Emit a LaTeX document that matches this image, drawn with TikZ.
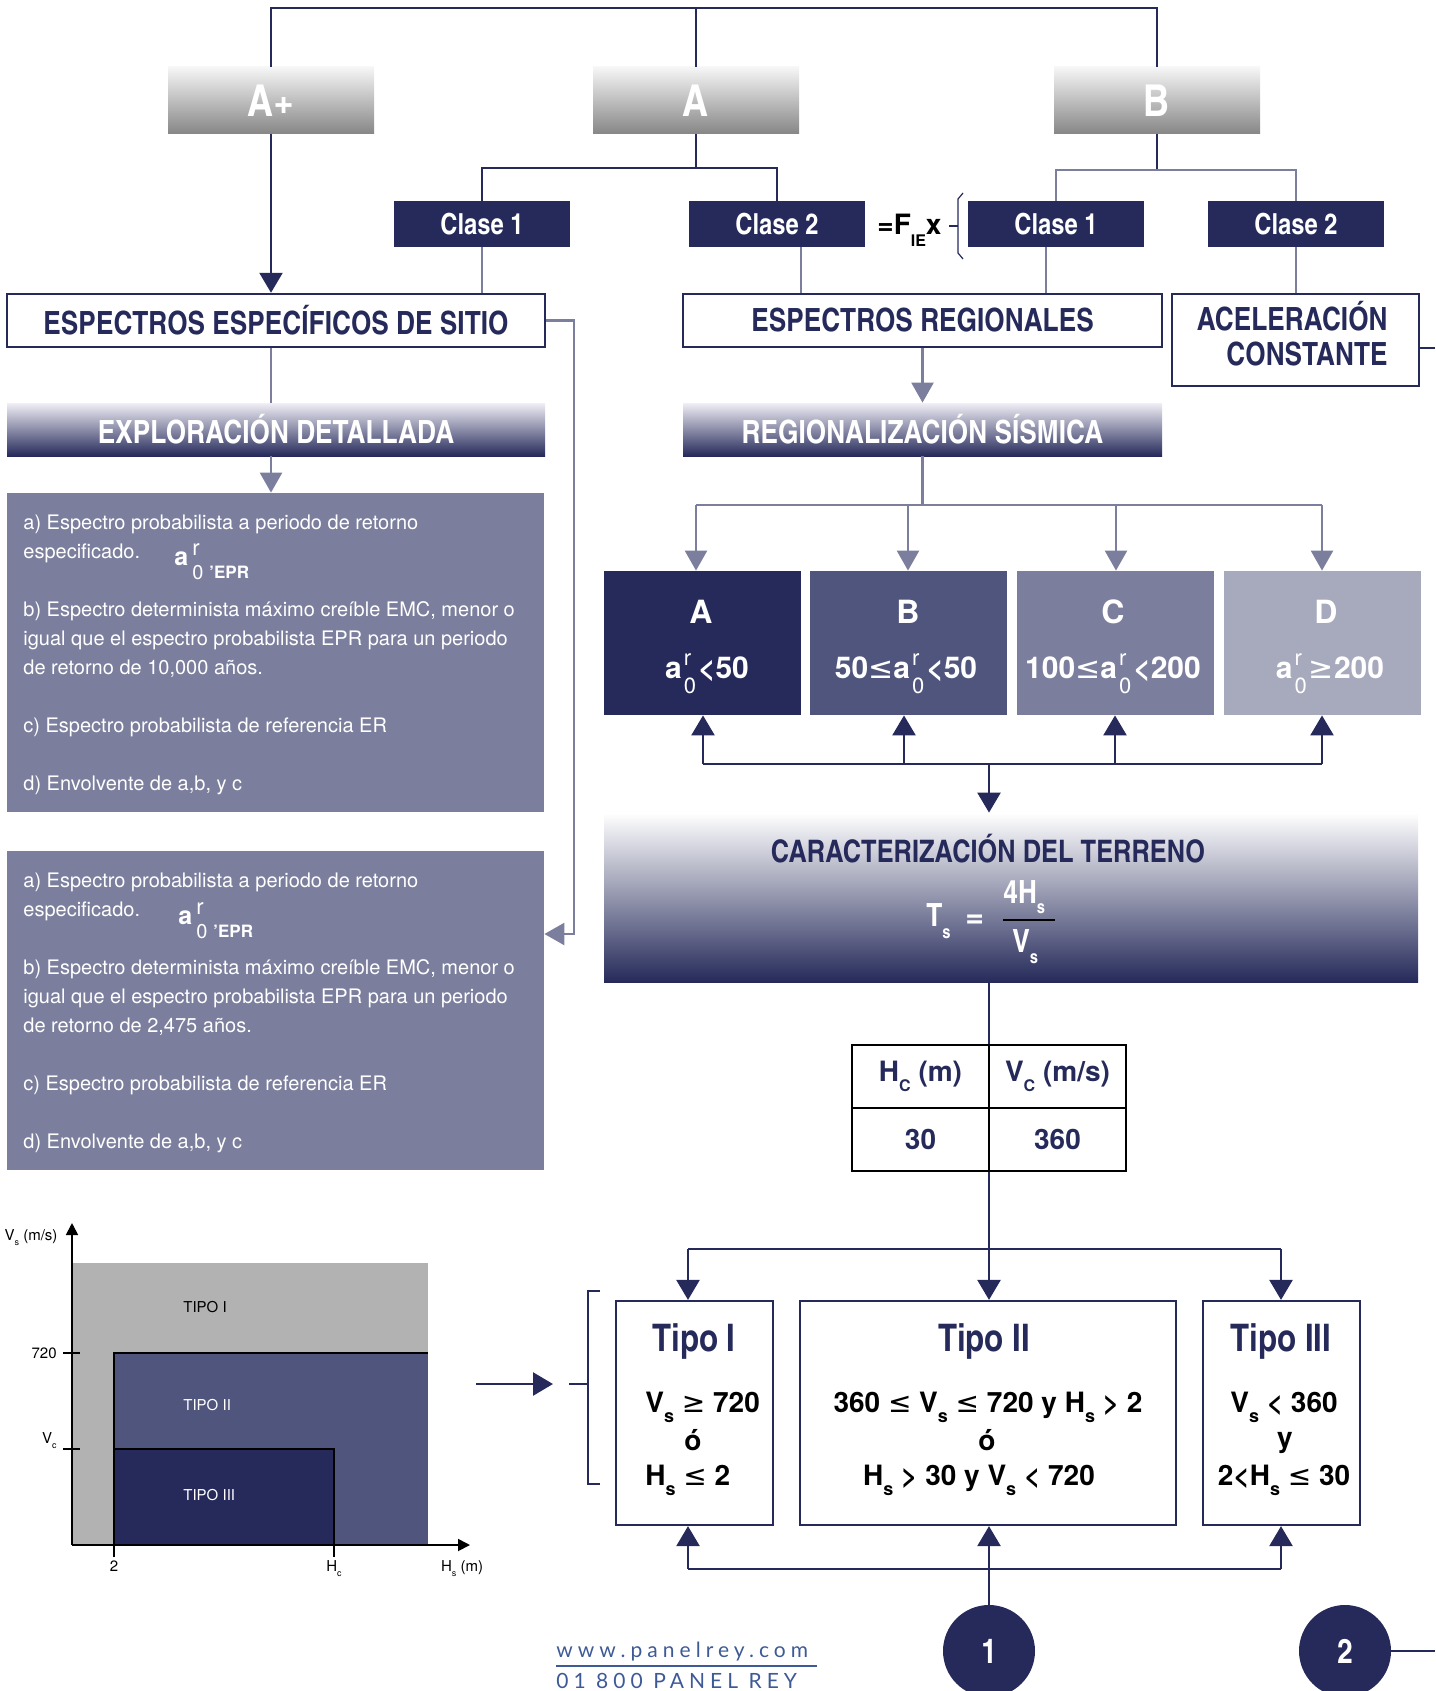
\documentclass[tikz,border=0pt]{standalone}
\usepackage{fontspec}
\setmainfont{TeX Gyre Heros}
\newfontfamily\cn{texgyreheroscn}[Extension=.otf,UprightFont=*-regular,BoldFont=*-bold]
\newfontfamily\ft{Lato}[LetterSpace=24]
\newfontfamily\djv{DejaVu Sans}
\usetikzlibrary{arrows.meta}
\definecolor{navy}{RGB}{37,42,90}
\definecolor{gblue}{RGB}{123,127,157}
\definecolor{midb}{RGB}{80,85,125}
\definecolor{lightb}{RGB}{167,169,189}
\definecolor{foot}{RGB}{62,90,150}
\definecolor{gtop}{RGB}{246,246,246}
\definecolor{gbot}{RGB}{134,134,134}
\definecolor{barTop}{RGB}{240,238,246}
\definecolor{gfill}{RGB}{178,178,178}
\newcommand\fsz[1]{\fontsize{#1}{#1}\selectfont}
\newcommand\LEQ{{\djv\mdseries ≤}}
\newcommand\GEQ{{\djv\mdseries ≥}}
\newcommand\ssub{\raisebox{-5pt}{\fsz{9}s}}
\newcommand\aroT{{\fsz{12.5}\bfseries a}\kern2pt\rlap{\raisebox{5pt}{\fsz{11}r}}\raisebox{-7pt}{\fsz{10}0}\kern3pt\raisebox{-6.5pt}{\fsz{8.5}\bfseries ’EPR}}
\newcommand\aroB{a\kern1pt\rlap{\raisebox{6.5pt}{\fsz{11}\mdseries r}}\raisebox{-7.5pt}{\fsz{11}\mdseries 0}\kern1pt}
\begin{document}
\begin{tikzpicture}[x=0.5pt,y=-0.5pt,
  dk/.style={draw=navy,line width=1.25pt},
  lt/.style={draw=gblue,line width=1.25pt},
  dkar/.style={dk,-{Triangle[length=10pt,width=11.5pt]}},
  ltar/.style={lt,-{Triangle[length=10pt,width=11pt]}},
  graybox/.style={rectangle,inner sep=0,minimum width=103pt,minimum height=33.5pt,top color=gtop,bottom color=gbot,text=white,font=\cn\bfseries\fsz{22}},
  clase/.style={rectangle,inner sep=0,fill=navy,text=white,minimum width=88pt,minimum height=23pt,font=\cn\bfseries\fsz{14.5}},
  wbox/.style={rectangle,inner sep=0,draw=navy,line width=1.25pt,fill=white,text=navy,font=\cn\bfseries\fsz{16}},
  gradbar/.style={rectangle,inner sep=0,top color=barTop,bottom color=navy,text=white,font=\cn\bfseries\fsz{16}},
  tbox/.style={rectangle,inner sep=0,fill=gblue,minimum width=268.5pt,minimum height=159.5pt},
  tl/.style={anchor=base west,inner sep=0,text=white,font=\fsz{10}},
  zbox/.style={rectangle,inner sep=0,minimum width=98.5pt,minimum height=72pt},
  zlet/.style={anchor=base,inner sep=0,text=white,font=\bfseries\fsz{16}},
  zval/.style={anchor=base,inner sep=0,text=white,font=\bfseries\fsz{15}},
  cell/.style={rectangle,inner sep=0,draw=black,line width=1.25pt,minimum width=68.5pt,minimum height=31.5pt,text=navy,font=\bfseries\fsz{14}},
  tipo/.style={rectangle,inner sep=0,draw=navy,line width=1.1pt,minimum height=112pt},
  ttl/.style={anchor=base,inner sep=0,text=navy,font=\cn\bfseries\fsz{19}},
  cond/.style={inner sep=0,text=black,font=\bfseries\fsz{14}},
  circ/.style={circle,inner sep=0,fill=navy,minimum size=46pt,text=white,font=\cn\bfseries\fsz{17}},
  glab/.style={inner sep=0,font=\fsz{7.5}},
  frm/.style={anchor=base west,inner sep=0,text=white,font=\cn\bfseries\fsz{16}},
]
\useasboundingbox (0,0) rectangle (1435,1691);

% ---------- top level ----------
\node[graybox] (Ap) at (271,100.5) {A+};
\node[graybox] (Ab) at (696,100.5) {A};
\node[graybox] (Bb) at (1157,100.5) {B};
\coordinate (ytop) at (0,8);
\draw[dk] (Ap.north) |- (Bb.north |- ytop) -- (Bb.north);
\draw[dk] (Ab.north) -- (Ab.north |- ytop);

\node[clase] (c1a) at (482,224) {Clase 1};
\node[clase] (c2a) at (777,224) {Clase 2};
\node[clase] (c1b) at (1056,224) {Clase 1};
\node[clase] (c2b) at (1296,224) {Clase 2};
\coordinate (ya) at (0,168);
\coordinate (yb) at (0,170);
\draw[dk] (Ab.south) -- (Ab.south |- ya);
\draw[dk] (c1a.north) |- (c2a.north |- ya) -- (c2a.north);
\draw[dk] (Bb.south) -- (Bb.south |- yb);
\draw[lt] (c1b.north) |- (c2b.north |- yb) -- (c2b.north);

\node[anchor=base west,inner sep=0,font=\bfseries\fsz{14}] (fie) at (877,234) {=F\raisebox{-6pt}{\fsz{8}IE}x};
\draw[navy,line width=0.6pt] (963,193) -- (958,199) -- (958,253) -- (963,259);
\draw[navy,line width=0.6pt] (949,226) -- (958,226);

% ---------- second level ----------
\node[wbox,minimum width=269pt,minimum height=26.5pt] (ESP) at (276,320.5) {ESPECTROS ESPECÍFICOS DE SITIO};
\node[wbox,minimum width=239.5pt,minimum height=26.5pt] (ESR) at (922.5,320.5) {ESPECTROS REGIONALES};
\node[wbox,minimum width=123.5pt,minimum height=46pt] (ACC) at (1295.5,340) {};
\node[anchor=base east,inner sep=0,text=navy,font=\cn\bfseries\fsz{16}] (acc1) at (1388,330) {ACELERACIÓN};
\node[anchor=base east,inner sep=0,text=navy,font=\cn\bfseries\fsz{16}] (acc2) at (1388,365) {CONSTANTE};

\draw[dkar] (Ap.south) -- (Ap.south |- ESP.north);
\draw[lt] (c1a.south) -- (c1a.south |- ESP.north);
\coordinate (x801) at (801,0);
\coordinate (x1046) at (1046,0);
\draw[lt] (c2a.south -| x801) -- (ESR.north -| x801);
\draw[lt] (c1b.south -| x1046) -- (ESR.north -| x1046);
\draw[lt] (c2b.south) -- (c2b.south |- ACC.north);
\coordinate (accR) at (1435,348);
\draw[dk] (ACC.east |- accR) -- (accR);

\node[gradbar,minimum width=269pt,minimum height=26.5pt] (EXP) at (276,429.5) {EXPLORACIÓN DETALLADA};
\node[gradbar,minimum width=239.5pt,minimum height=26.5pt] (REG) at (922.5,429.5) {REGIONALIZACIÓN SÍSMICA};
\draw[lt] (ESP.south -| Ap.south) -- (EXP.north -| Ap.south);
\draw[ltar] (ESR.south) -- (REG.north);

% ---------- left text boxes ----------
\node[tbox] (TB1) at (275.5,652.5) {};
\node[tl] (TB1l1) at (23,529) {a) Espectro probabilista a periodo de retorno};
\node[tl] (TB1l2) at (23,558) {especificado.};
\node[tl] (TB1l3) at (23,616) {b) Espectro determinista máximo creíble EMC, menor o};
\node[tl] (TB1l4) at (23,645) {igual que el espectro probabilista EPR para un periodo};
\node[tl] (TB1l5) at (23,674) {de retorno de 10,000 años.};
\node[tl] (TB1l6) at (23,732) {c) Espectro probabilista de referencia ER};
\node[tl] (TB1l7) at (23,790) {d) Envolvente de a,b, y c};
\node[anchor=base west,inner sep=0,text=white] (TB1a) at (174,565) {\aroT};

\node[tbox] (TB2) at (275.5,1010.5) {};
\node[tl] (TB2l1) at (23,887) {a) Espectro probabilista a periodo de retorno};
\node[tl] (TB2l2) at (23,916) {especificado.};
\node[tl] (TB2l3) at (23,974) {b) Espectro determinista máximo creíble EMC, menor o};
\node[tl] (TB2l4) at (23,1003) {igual que el espectro probabilista EPR para un periodo};
\node[tl] (TB2l5) at (23,1032) {de retorno de 2,475 años.};
\node[tl] (TB2l6) at (23,1090) {c) Espectro probabilista de referencia ER};
\node[tl] (TB2l7) at (23,1148) {d) Envolvente de a,b, y c};
\node[anchor=base west,inner sep=0,text=white] (TB2a) at (178,924) {\aroT};

\draw[ltar] (EXP.south -| Ap.south) -- (TB1.north -| Ap.south);
\coordinate (xr) at (574,0);
\coordinate (yr2) at (0,934);
\draw[ltar] (ESP.east) -| (xr |- yr2) -- (TB2.east |- yr2);

% ---------- zones ----------
\node[zbox,fill=navy] (bA) at (702.5,643) {};
\node[zbox,fill=midb] (bB) at (908.5,643) {};
\node[zbox,fill=gblue] (bC) at (1115,643) {};
\node[zbox,fill=lightb] (bD) at (1322,643) {};
\node[zlet] (lA) at (701,623) {A};
\node[zlet] (lB) at (908,623) {B};
\node[zlet] (lC) at (1113,623) {C};
\node[zlet] (lD) at (1326,623) {D};
\node[zval] (vA) at (707,678) {\aroB<50};
\node[zval] (vB) at (906,678) {50\LEQ\aroB<50};
\node[zval] (vC) at (1113,678) {100\LEQ\aroB<200};
\node[zval] (vD) at (1330,678) {\aroB\GEQ200};

\coordinate (jA) at (696,505);
\coordinate (jB) at (908,505);
\coordinate (jC) at (1116,505);
\coordinate (jD) at (1322,505);
\draw[lt] (REG.south) -- (REG.south |- jA);
\draw[lt] (jA) -- (jD);
\draw[ltar] (jA) -- (jA |- bA.north);
\draw[ltar] (jB) -- (jB |- bB.north);
\draw[ltar] (jC) -- (jC |- bC.north);
\draw[ltar] (jD) -- (jD |- bD.north);

\coordinate (kA) at (703,764);
\coordinate (kB) at (904,764);
\coordinate (kC) at (1115,764);
\coordinate (kD) at (1322,764);
\coordinate (k0) at (989,764);
\draw[dk] (kA) -- (kD);
\draw[dkar] (kA) -- (kA |- bA.south);
\draw[dkar] (kB) -- (kB |- bB.south);
\draw[dkar] (kC) -- (kC |- bC.south);
\draw[dkar] (kD) -- (kD |- bD.south);

% ---------- caracterizacion ----------
\node[rectangle,inner sep=0,minimum width=407pt,minimum height=84.5pt,top color=white,bottom color=navy] (CAR) at (1011,897.5) {};
\draw[dkar] (k0) -- (k0 |- CAR.north);
\node[anchor=base,inner sep=0,text=navy,font=\cn\bfseries\fsz{15.5}] (CARt) at (988,862) {CARACTERIZACIÓN DEL TERRENO};
\node[frm] (Ts) at (926,926) {T\raisebox{-6pt}{\fsz{9}s}};
\node[frm,font=\bfseries\fsz{16}] (eq) at (965,927) {=};
\node[frm] (num) at (1003,903) {4H\raisebox{-5pt}{\fsz{9}s}};
\draw[black,line width=0.6pt] (num.south west |- 0,920) -- (1055,920);
\node[frm] (den) at (1012,952) {V\raisebox{-5.5pt}{\fsz{9}s}};

% ---------- table ----------
\node[cell] (tH) at (920.5,1076.5) {H\raisebox{-5pt}{\fsz{8}C} (m)};
\node[cell] (tV) at (1057.5,1076.5) {V\raisebox{-5pt}{\fsz{8}C} (m/s)};
\node[cell] (t30) at (920.5,1139.5) {30};
\node[cell] (t360) at (1057.5,1139.5) {360};
\draw[dk] (CAR.south -| k0) -- (k0 |- tH.north);

% ---------- tipos ----------
\node[tipo,minimum width=78.5pt] (T1) at (694.5,1413) {};
\node[tipo,minimum width=188pt] (T2) at (988,1413) {};
\node[tipo,minimum width=78.5pt] (T3) at (1281.5,1413) {};
\node[ttl] (T1t) at (694,1351) {Tipo I};
\node[ttl] (T2t) at (984,1351) {Tipo II};
\node[ttl] (T3t) at (1281,1351) {Tipo III};
\node[cond,anchor=base west] (T1a) at (645,1412) {V\ssub{} \GEQ{} 720};
\node[cond,anchor=base] (T1b) at (693,1450) {ó};
\node[cond,anchor=base west] (T1c) at (645,1485) {H\ssub{} \LEQ{} 2};
\node[cond,anchor=base] (T2a) at (988,1412) {360 \LEQ{} V\ssub{} \LEQ{} 720 y H\ssub{} > 2};
\node[cond,anchor=base] (T2b) at (987,1450) {ó};
\node[cond,anchor=base] (T2c) at (979,1485) {H\ssub{} > 30 y V\ssub{} < 720};
\node[cond,anchor=base] (T3a) at (1284,1412) {V\ssub{} < 360};
\node[cond,anchor=base] (T3b) at (1285,1447) {y};
\node[cond,anchor=base] (T3c) at (1284,1485) {2<H\ssub{} \LEQ{} 30};

\draw[dkar] (t30.south -| k0) -- (k0 |- T2.north);
\coordinate (m1) at (688,1249);
\coordinate (m3) at (1281,1249);
\draw[dk] (m1) -- (m3);
\draw[dkar] (m1) -- (m1 |- T1.north);
\draw[dkar] (m3) -- (m3 |- T3.north);

\node[circ] (C1) at (989,1651) {1};
\node[circ] (C2) at (1345,1651) {2};
\coordinate (n1) at (688,1569);
\coordinate (n3) at (1281,1569);
\draw[dk] (n1) -- (n3);
\draw[dkar] (n1) -- (n1 |- T1.south);
\draw[dkar] (n3) -- (n3 |- T3.south);
\draw[dkar] (C1.north) -- (C1.north |- T2.south);
\coordinate (c2r) at (1435,1651);
\draw[dk] (C2.east) -- (c2r);

% ---------- graph ----------
\fill[gfill] (72,1263) rectangle (428,1545);
\fill[midb] (114,1353) rectangle (428,1545);
\fill[navy] (114,1449) rectangle (334,1545);
\draw[black,line width=0.75pt] (114,1557) -- (114,1353) -- (428,1353);
\draw[black,line width=0.75pt] (114,1449) -- (334,1449) -- (334,1557);
\draw[black,line width=0.9pt,-{Triangle[length=6pt,width=6pt]}] (72,1545) -- (72,1223);
\draw[black,line width=0.9pt,-{Triangle[length=6pt,width=6pt]}] (72,1545) -- (470,1545);
\draw[black,line width=0.75pt] (63,1353) -- (80,1353);
\draw[black,line width=0.75pt] (63,1449) -- (80,1449);
\node[glab,anchor=east] at (57,1353) {720};
\node[glab,anchor=east] at (57,1441) {V\raisebox{-2.5pt}{\fsz{4.5}c}};
\node[glab,anchor=north] at (114,1560) {2};
\node[glab,anchor=north] at (334,1560) {H\raisebox{-2.5pt}{\fsz{4.5}c}};
\node[glab,anchor=north] at (462,1560) {H\raisebox{-2.5pt}{\fsz{4.5}s} (m)};
\node[glab] at (31,1238) {V\raisebox{-2.5pt}{\fsz{4.5}s} (m/s)};
\node[glab,anchor=west] at (183,1307) {TIPO I};
\node[glab,anchor=west,text=white] at (183,1405) {TIPO II};
\node[glab,anchor=west,text=white] at (183,1495) {TIPO III};

\coordinate (ga1) at (476,1384);
\coordinate (ga2) at (553,1384);
\draw[dkar] (ga1) -- (ga2);
\draw[navy,line width=1pt] (600,1291) -- (588,1291) -- (588,1484) -- (600,1484);
\draw[navy,line width=1pt] (569,1384) -- (588,1384);

% ---------- footer ----------
\node[anchor=base west,inner sep=0,text=foot,font=\ft\fsz{10.5}] (www) at (556,1657) {www.panelrey.com};
\draw[foot,line width=1pt] (556,1666) -- (817,1666);
\node[anchor=base west,inner sep=0,text=foot,font=\ft\fsz{10.5}] (tel) at (556,1688) {01 800 PANEL REY};
\end{tikzpicture}
\end{document}
